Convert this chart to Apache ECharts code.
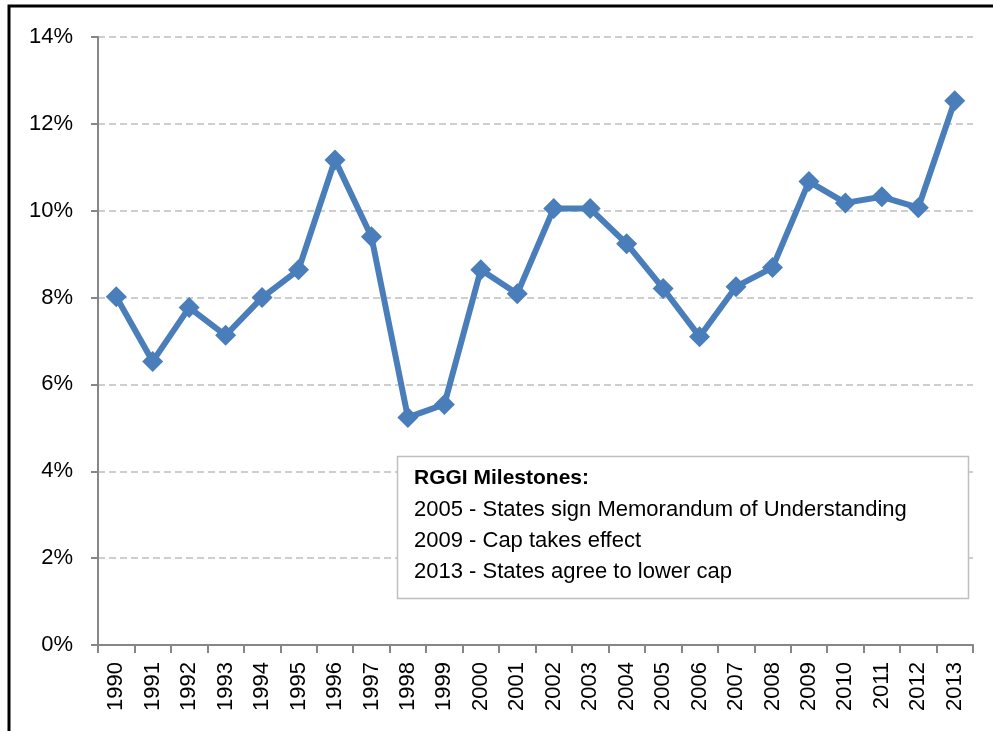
<!DOCTYPE html>
<html><head><meta charset="utf-8">
<script src="https://cdn.jsdelivr.net/npm/echarts@6/dist/echarts.min.js"></script>
<style>html,body{margin:0;padding:0;background:#fff}#c{width:993px;height:731px}</style>
</head><body><div id="c"></div>
<script>
var years = ['1990','1991','1992','1993','1994','1995','1996','1997','1998','1999','2000','2001','2002','2003','2004','2005','2006','2007','2008','2009','2010','2011','2012','2013'];
var values = [8.02,6.53,7.77,7.13,8.00,8.64,11.17,9.40,5.24,5.54,8.64,8.09,10.05,10.05,9.24,8.21,7.10,8.25,8.69,10.67,10.18,10.32,10.07,12.53];
var yTicks = [0,2,4,6,8,10,12,14];
var noteTitle = 'RGGI Milestones:';
var noteLines = ['2005 - States sign Memorandum of Understanding','2009 - Cap takes effect','2013 - States agree to lower cap'];

var FONT = 'Liberation Sans';
var chart = echarts.init(document.getElementById('c'));
chart.setOption({
  animation:false,
  textStyle:{fontFamily:FONT},
  grid:{left:98,right:20,top:37,bottom:86,containLabel:false},
  xAxis:{type:'category',data:years,boundaryGap:true,
    axisLine:{lineStyle:{color:'#868686',width:2}},
    axisTick:{show:true,alignWithLabel:false,length:8,lineStyle:{color:'#868686',width:2}},
    axisLabel:{rotate:90,color:'#000',fontSize:22,fontFamily:FONT,margin:17,interval:0}},
  yAxis:{type:'value',min:yTicks[0],max:yTicks[yTicks.length-1],interval:2,
    axisLine:{show:true,lineStyle:{color:'#868686',width:2}},
    axisTick:{show:true,length:7,lineStyle:{color:'#868686',width:2}},
    axisLabel:{color:'#000',fontSize:22,fontFamily:FONT,margin:25,formatter:function(v){return v+'%';}},
    splitLine:{lineStyle:{color:'#bfbfbf',type:[7,4],width:1.5}}},
  series:[{type:'line',data:values,symbol:'diamond',symbolSize:21,
    lineStyle:{color:'#4a7ebb',width:6},itemStyle:{color:'#4a7ebb'}}],
  graphic:[
    {type:'rect',shape:{x:9,y:6,width:1000,height:800},style:{fill:'none',stroke:'#000',lineWidth:3},z:10},
    {type:'rect',shape:{x:397.5,y:456.5,width:571,height:142},style:{fill:'#fff',stroke:'#bfbfbf',lineWidth:1.5},z:20},
    {type:'text',x:414,y:478,z:21,style:{text:noteTitle,font:'bold 21px "'+FONT+'"',fill:'#000',textVerticalAlign:'middle'}},
    {type:'text',x:414,y:510,z:21,style:{text:noteLines[0],font:'22px "'+FONT+'"',fill:'#000',textVerticalAlign:'middle'}},
    {type:'text',x:414,y:541,z:21,style:{text:noteLines[1],font:'22px "'+FONT+'"',fill:'#000',textVerticalAlign:'middle'}},
    {type:'text',x:414,y:572,z:21,style:{text:noteLines[2],font:'22px "'+FONT+'"',fill:'#000',textVerticalAlign:'middle'}}
  ]
});
</script></body></html>
